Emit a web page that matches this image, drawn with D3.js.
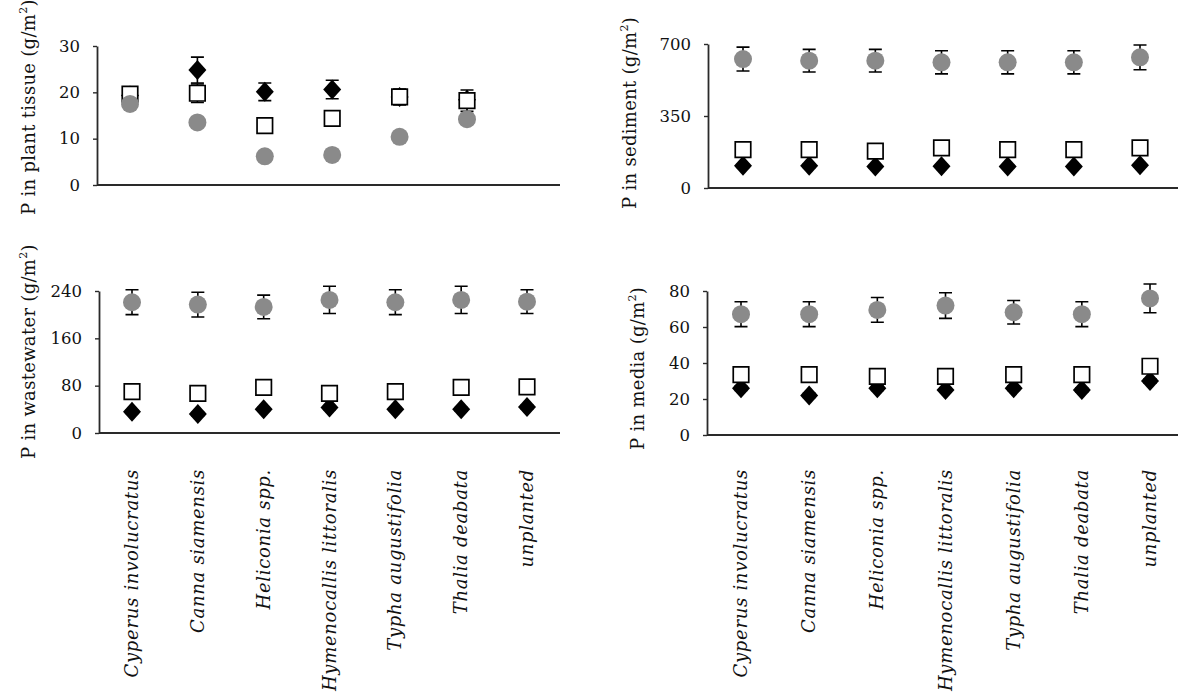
<!DOCTYPE html>
<html>
<head>
<meta charset="utf-8">
<script src="https://cdn.jsdelivr.net/npm/d3@7/dist/d3.min.js"></script>
<style>
  html, body { margin: 0; padding: 0; background: #fff; }
  svg { display: block; }
  text { font-family: "DejaVu Serif", "Liberation Serif", serif; fill: #111; }
</style>
</head>
<body>
<script>
// Treatments (planted species and an unplanted control)
const categories = [
  "Cyperus involucratus", "Canna siamensis", "Heliconia spp.",
  "Hymenocallis littoralis", "Typha augustifolia", "Thalia deabata", "unplanted"
];
const tissueCategories = categories.slice(0, 6);

// P in plant tissue (g/m2)
const tissueCircle      = [17.5, 13.5, 6.2, 6.5, 10.4, 14.2];
const tissueCircleErr   = [1.0, 0.8, 0.7, 0.7, 0.8, 1.0];
const tissueSquare      = [19.6, 19.8, 12.8, 14.4, 19.0, 18.2];
const tissueSquareErr   = [1.5, 2.0, 0.8, 0.8, 1.7, 2.3];
const tissueDiamond     = [19.3, 24.8, 20.1, 20.6, 19.0, 18.4];
const tissueDiamondErr  = [1.0, 2.8, 1.9, 2.0, 1.0, 1.0];
const tissueTicks       = [0, 10, 20, 30];

// P in sediment (g/m2)
const sedimentCircle     = [627, 619, 619, 611, 611, 611, 635];
const sedimentCircleErr  = [58, 55, 55, 56, 56, 56, 60];
const sedimentSquare     = [187, 187, 179, 195, 187, 187, 195];
const sedimentSquareErr  = [12, 12, 12, 12, 12, 12, 12];
const sedimentDiamond    = [108, 108, 105, 106, 105, 104, 110];
const sedimentDiamondErr = [8, 8, 8, 8, 8, 8, 8];
const sedimentTicks      = [0, 350, 700];

// P in wastewater (g/m2)
const wastewaterCircle     = [221, 217, 213, 225, 221, 225, 222];
const wastewaterCircleErr  = [21, 21, 20, 23, 21, 23, 20];
const wastewaterSquare     = [70, 67, 77, 67, 70, 77, 78];
const wastewaterSquareErr  = [4, 4, 4, 4, 4, 4, 4];
const wastewaterDiamond    = [36, 32, 40, 43, 40, 40, 44];
const wastewaterDiamondErr = [3, 3, 3, 3, 3, 3, 3];
const wastewaterTicks      = [0, 80, 160, 240];

// P in media (g/m2)
const mediaCircle     = [67.1, 67.1, 69.5, 71.9, 68.2, 67.1, 75.9];
const mediaCircleErr  = [6.9, 6.9, 6.9, 7.1, 6.5, 6.9, 8.0];
const mediaSquare     = [33.5, 33.5, 32.6, 32.6, 33.5, 33.5, 38.2];
const mediaSquareErr  = [1.5, 1.5, 1.5, 1.5, 1.5, 1.5, 1.5];
const mediaDiamond    = [26, 22, 26, 25, 26, 25, 30];
const mediaDiamondErr = [1.2, 1.2, 1.2, 1.2, 1.2, 1.2, 1.2];
const mediaTicks      = [0, 20, 40, 60, 80];

const svg = d3.select("body").append("svg")
  .attr("width", 1180).attr("height", 696);

const AXIS_COLOR = "#2a2a2a";
const CIRCLE_FILL = "#8a8a8a";
const CAP = 6.5;

const zip = (cats, v, e) => cats.map((c, i) => ({ cat: c, v: v[i], e: e[i] }));

const panels = [
  {
    title: "P in plant tissue (g/m", cats: tissueCategories,
    ax: 97, xEnd: 560, xr: [130, 467], yr: [185, 46], max: 30, ticks: tissueTicks,
    titleX: 35, titleY: 215, labels: false,
    diamond: zip(tissueCategories, tissueDiamond, tissueDiamondErr),
    square: zip(tissueCategories, tissueSquare, tissueSquareErr),
    circle: zip(tissueCategories, tissueCircle, tissueCircleErr)
  },
  {
    title: "P in sediment (g/m", cats: categories,
    ax: 708, xEnd: 1178, xr: [743, 1140], yr: [188, 44], max: 700, ticks: sedimentTicks,
    titleX: 636, titleY: 209, labels: false,
    diamond: zip(categories, sedimentDiamond, sedimentDiamondErr),
    square: zip(categories, sedimentSquare, sedimentSquareErr),
    circle: zip(categories, sedimentCircle, sedimentCircleErr)
  },
  {
    title: "P in wastewater (g/m", cats: categories,
    ax: 99, xEnd: 560, xr: [132, 527], yr: [433, 291], max: 240, ticks: wastewaterTicks,
    titleX: 35, titleY: 459, labels: true,
    diamond: zip(categories, wastewaterDiamond, wastewaterDiamondErr),
    square: zip(categories, wastewaterSquare, wastewaterSquareErr),
    circle: zip(categories, wastewaterCircle, wastewaterCircleErr)
  },
  {
    title: "P in media (g/m", cats: categories,
    ax: 707, xEnd: 1178, xr: [741, 1150], yr: [435, 291], max: 80, ticks: mediaTicks,
    titleX: 644, titleY: 450, labels: true,
    diamond: zip(categories, mediaDiamond, mediaDiamondErr),
    square: zip(categories, mediaSquare, mediaSquareErr),
    circle: zip(categories, mediaCircle, mediaCircleErr)
  }
];

function errorBars(g, data, x, y) {
  const eb = g.append("g").attr("stroke", "#000").attr("stroke-width", 1.6).attr("fill", "none");
  eb.selectAll("path").data(data).join("path")
    .attr("d", d => {
      const cx = x(d.cat), t = y(d.v + d.e), b = y(d.v - d.e);
      return `M${cx},${t}V${b}M${cx - CAP},${t}H${cx + CAP}M${cx - CAP},${b}H${cx + CAP}`;
    });
}

panels.forEach(p => {
  const g = svg.append("g");
  const x = d3.scalePoint().domain(p.cats).range(p.xr);
  const y = d3.scaleLinear().domain([0, p.max]).range(p.yr);

  // value axis
  const yAxis = g.append("g")
    .attr("transform", `translate(${p.ax},0)`)
    .call(d3.axisLeft(y).tickValues(p.ticks).tickSize(4).tickSizeOuter(0).tickPadding(13));
  yAxis.select(".domain").attr("stroke", AXIS_COLOR).attr("stroke-width", 1.8);
  yAxis.selectAll(".tick line").attr("stroke", AXIS_COLOR).attr("stroke-width", 1.4);
  yAxis.selectAll(".tick text")
    .attr("font-family", "DejaVu Serif").attr("font-size", 16.5).attr("fill", "#222");

  // category axis line
  g.append("line")
    .attr("x1", p.ax).attr("x2", p.xEnd)
    .attr("y1", y(0)).attr("y2", y(0))
    .attr("stroke", AXIS_COLOR).attr("stroke-width", 1.8);

  // axis title
  const t = g.append("text")
    .attr("transform", `translate(${p.titleX},${p.titleY}) rotate(-90)`)
    .attr("text-anchor", "start")
    .attr("font-size", 18)
    .attr("letter-spacing", 0.3);
  t.append("tspan").text(p.title);
  t.append("tspan").attr("font-size", 11).attr("dy", -8).text("2");
  t.append("tspan").attr("dy", 8).text(")");

  // series: diamonds, squares, circles
  errorBars(g, p.diamond, x, y);
  g.append("g").selectAll("path").data(p.diamond).join("path")
    .attr("transform", d => `translate(${x(d.cat)},${y(d.v)})`)
    .attr("d", "M0,-10L9,0L0,10L-9,0Z")
    .attr("fill", "#000");

  errorBars(g, p.square, x, y);
  g.append("g").selectAll("path").data(p.square).join("path")
    .attr("transform", d => `translate(${x(d.cat)},${y(d.v)})`)
    .attr("d", d3.symbol(d3.symbolSquare, 15.5 * 15.5)())
    .attr("fill", "#fff").attr("stroke", "#000").attr("stroke-width", 1.7);

  errorBars(g, p.circle, x, y);
  g.append("g").selectAll("circle").data(p.circle).join("circle")
    .attr("cx", d => x(d.cat)).attr("cy", d => y(d.v)).attr("r", 9)
    .attr("fill", CIRCLE_FILL);

  // treatment labels
  if (p.labels) {
    g.append("g").selectAll("text").data(p.cats).join("text")
      .attr("transform", d => `translate(${x(d) + 6},469) rotate(-90)`)
      .attr("text-anchor", "end")
      .attr("font-style", "italic")
      .attr("font-size", 18)
      .attr("letter-spacing", 0.7)
      .text(d => d);
  }
});
</script>
</body>
</html>
